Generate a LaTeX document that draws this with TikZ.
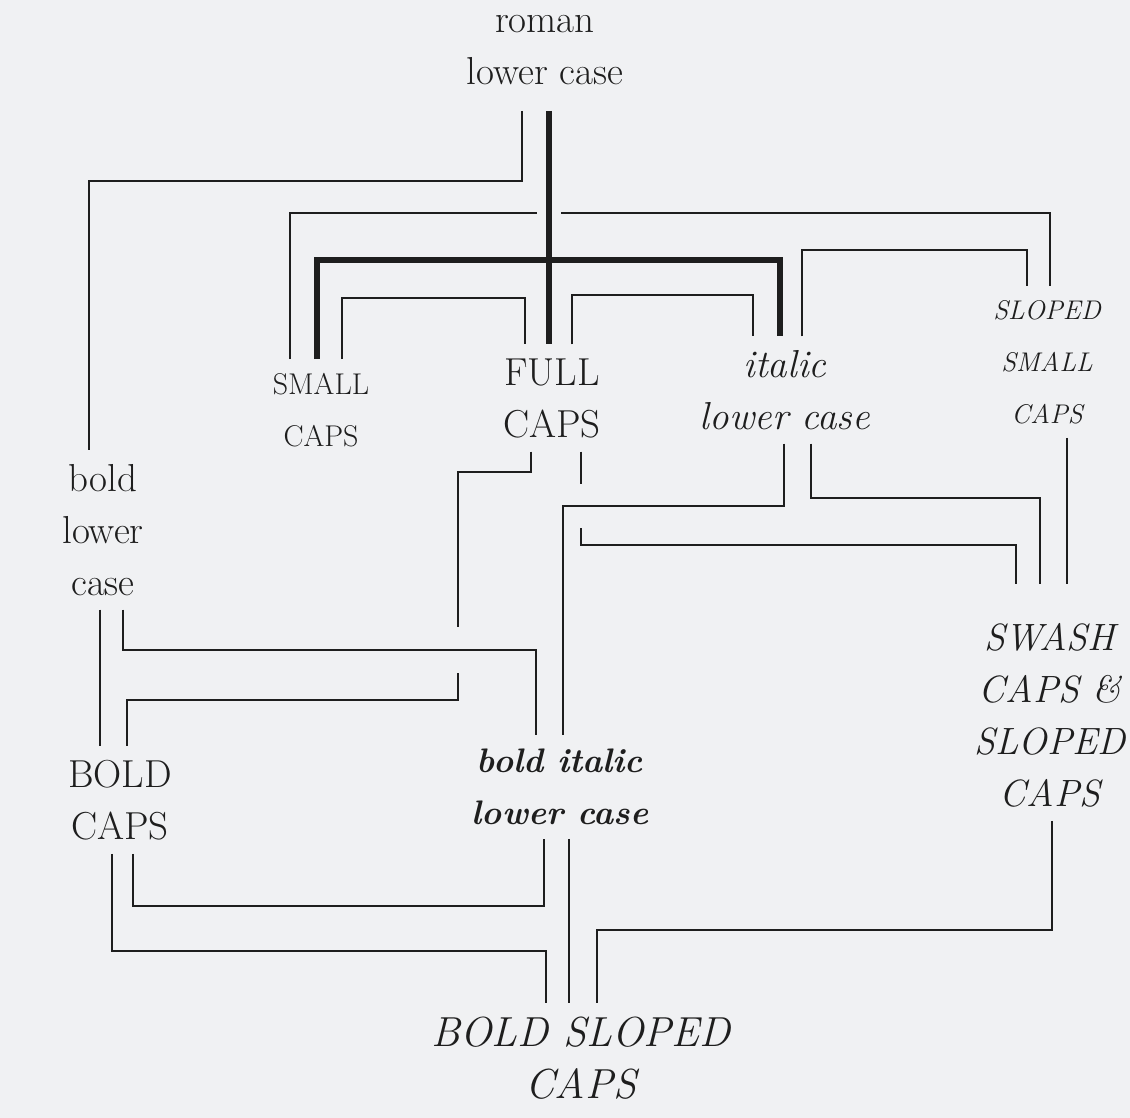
\documentclass[tikz,border=0pt]{standalone}
\usepackage{fontspec}
\definecolor{ink}{HTML}{1E1E1E}
\definecolor{paper}{HTML}{F0F1F3}
\newcommand\facesize[1]{\fontsize{#1}{52}\selectfont}
\tikzset{
  face/.style={align=center, inner sep=14pt, outer sep=0pt, text=ink},
  link/.style={draw=ink, line width=2.2pt},
  heavy/.style={draw=ink, line width=6pt},
}
\begin{document}
\begin{tikzpicture}[x=1pt, y=-1pt]
  \fill[paper] (0,0) rectangle (1130,1118);
  \useasboundingbox (0,0) rectangle (1130,1118);

  \node[face, font=\facesize{39}] (roman) at (545,50) {roman\\lower case};
  \node[face, font={\facesize{30}\addfontfeature{LetterSpace=18}}] (small) at (321,410) {SMALL\\CAPS};
  \node[face, font={\facesize{39}\addfontfeature{LetterSpace=4}}] (full) at (552,398) {FULL\\CAPS};
  \node[face, font={\facesize{39}\itshape}] (italic) at (785,390) {italic\\lower case};
  \node[face, font={\facesize{27}\itshape\addfontfeature{LetterSpace=18}}] (sloped) at (1047,362) {SLOPED\\SMALL\\CAPS};
  \node[face, font=\facesize{39}] (boldlc) at (103,530) {bold\\lower\\case};
  \node[face, font={\facesize{39}\addfontfeature{LetterSpace=8}}] (boldcaps) at (120,800) {BOLD\\CAPS};
  \node[face, font={\facesize{34}\bfseries\itshape}] (bolditalic) at (560,787) {bold italic\\lower case};
  \node[face, font={\facesize{38}\itshape\addfontfeature{LetterSpace=8}}] (swash) at (1050,715) {SWASH\\CAPS \&\\SLOPED\\CAPS};
  \node[face, font={\facesize{42}\itshape}] (boldsloped) at (581,1058) {BOLD SLOPED\\CAPS};

  \coordinate (hub) at (549,260);
  \coordinate (gapA) at (458,650);
  \coordinate (gapB) at (581,506);
  \coordinate (gapC) at (549,213);

  % upper tier
  \draw[link] ([xshift=-23pt,yshift=-12pt]roman.south) |- (300,181) -| ([xshift=-14pt]boldlc.north);
  \draw[link] ([xshift=-31pt]small.north) |- ([xshift=-12pt]gapC) ([xshift=12pt]gapC) -| ([xshift=3pt]sloped.north);
  \draw[link] ([xshift=21pt]small.north) |- (430,298) -| ([xshift=-27pt]full.north);
  \draw[link] ([xshift=20pt]full.north) |- (660,295) -| ([xshift=-32pt]italic.north);
  \draw[link] ([xshift=17pt]italic.north) |- (900,250) -| ([xshift=-20pt]sloped.north);
  \draw[heavy] ([xshift=4pt,yshift=-12pt]roman.south) -- ([xshift=-3pt]full.north);
  \draw[heavy] ([xshift=-4pt]small.north) |- (hub) -| ([xshift=-5pt]italic.north);

  % middle tier
  \draw[link] ([xshift=-3pt]boldlc.south) -- ([xshift=-20pt]boldcaps.north);
  \draw[link] ([xshift=20pt]boldlc.south) |- (gapA) -| ([xshift=-24pt]bolditalic.north);
  \draw[link] ([xshift=-21pt]full.south) |- (500,472) -| ([yshift=23pt]gapA)
              ([yshift=-23pt]gapA) |- (300,700) -| ([xshift=7pt]boldcaps.north);
  \draw[link] ([xshift=-1pt]italic.south) |- (gapB) -| ([xshift=3pt]bolditalic.north);
  \draw[link] ([xshift=29pt]full.south) -- ([yshift=22pt]gapB)
              ([yshift=-22pt]gapB) |- (800,545) -| ([xshift=-34pt,yshift=25pt]swash.north);
  \draw[link] ([xshift=26pt]italic.south) |- (900,498) -| ([xshift=-10pt,yshift=25pt]swash.north);
  \draw[link] ([xshift=20pt]sloped.south) -- ([xshift=17pt,yshift=25pt]swash.north);

  % lower tier
  \draw[link] ([xshift=13pt]boldcaps.south) |- (300,906) -| ([xshift=-16pt]bolditalic.south);
  \draw[link] ([xshift=-8pt]boldcaps.south) |- (300,951) -| ([xshift=-35pt]boldsloped.north);
  \draw[link] ([xshift=9pt]bolditalic.south) -- ([xshift=-12pt]boldsloped.north);
  \draw[link] ([xshift=2pt]swash.south) |- (800,930) -| ([xshift=16pt]boldsloped.north);
\end{tikzpicture}
\end{document}
